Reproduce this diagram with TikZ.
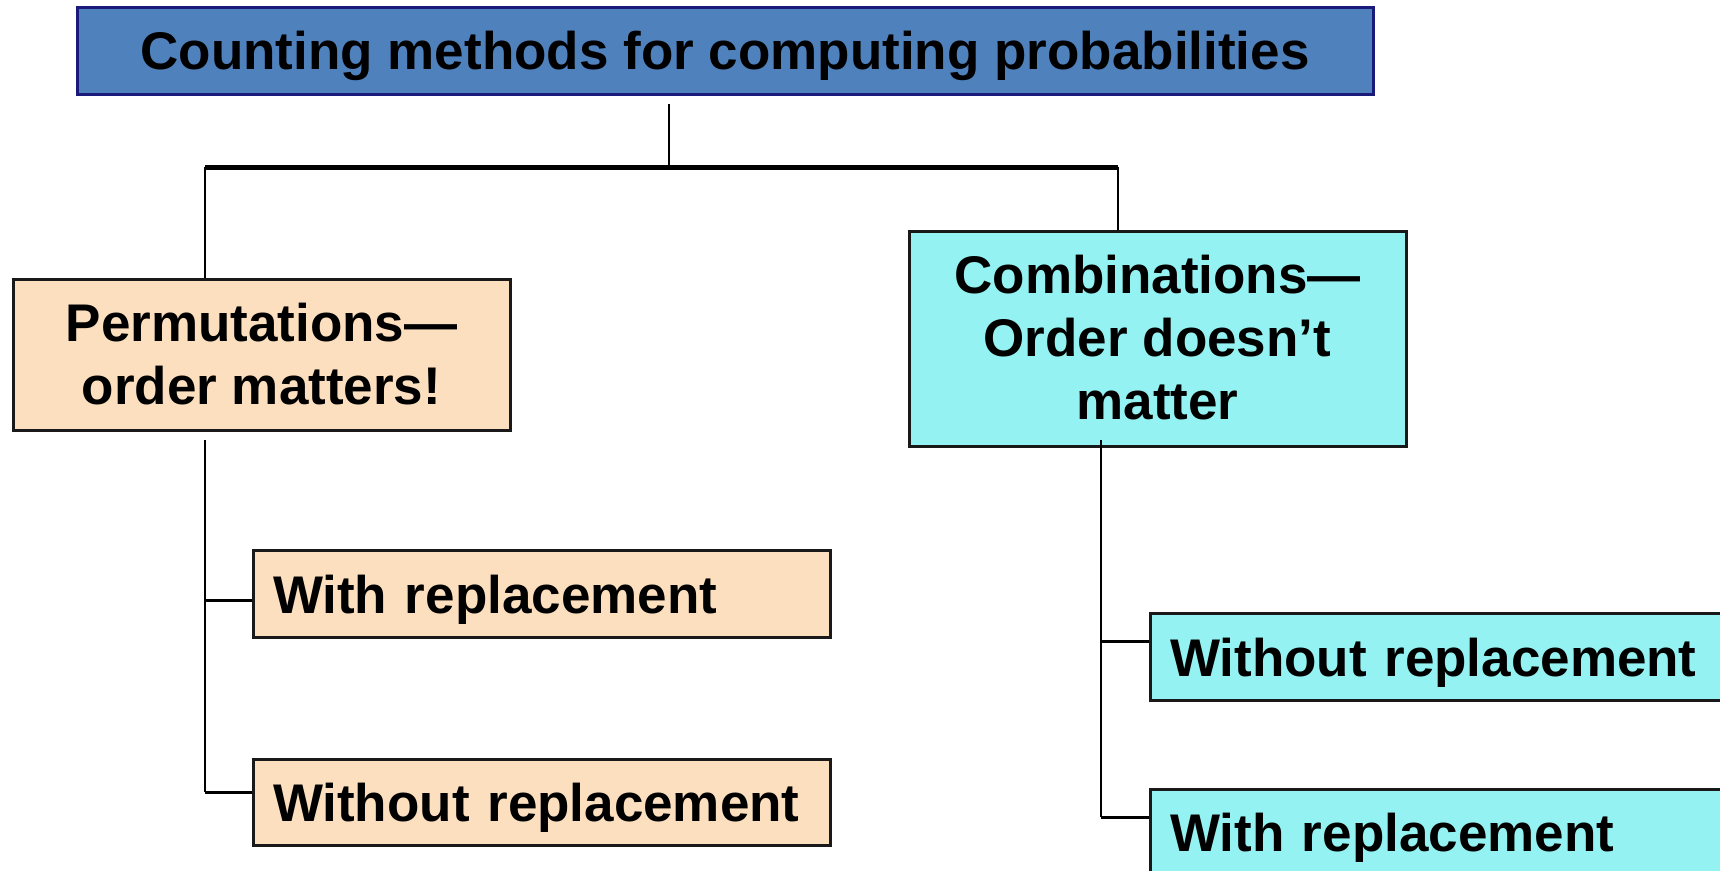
\documentclass[tikz,border=0pt]{standalone}
\usepackage{fontspec}
\setmainfont{Liberation Sans}
\definecolor{titleblue}{HTML}{4F81BD}
\definecolor{navy}{HTML}{1A1A7A}
\definecolor{peach}{HTML}{FCDFBE}
\definecolor{aqua}{HTML}{94F3F2}
\begin{document}
\begin{tikzpicture}[x=1pt,y=-1pt,
  box/.style={draw=black!90, line width=3pt, inner sep=0pt,
    font=\fontsize{53}{63}\selectfont\bfseries},
  titlebox/.style={box, draw=navy, fill=titleblue, minimum width=1296pt, minimum height=87pt,
    text height=38pt, text depth=0pt},
  catbox/.style={box, minimum width=497pt, align=center, text depth=0pt},
  leafbox/.style={box, inner xsep=20pt, align=left, minimum height=86.5pt,
    text height=38pt, text depth=0pt},
  trunk/.style={line width=2.5pt},
  branch/.style={line width=3pt},
  bar/.style={line width=5pt}]
\useasboundingbox (0,0) rectangle (1720,870);
\clip (0,0) rectangle (1720,870);

\node[titlebox] (title) at (725,50.5) {Counting methods for computing probabilities};
\node[catbox, fill=peach, minimum height=151pt, text height=99pt] (perm) at (261.5,354.5)
  {Permutations—\\order matters!};
\node[catbox, fill=aqua, minimum height=215pt, text height=161pt] (comb) at (1157.5,338.5)
  {Combinations—\\Order doesn’t\\matter};
\node[leafbox, fill=peach, text width=537pt] (pw) at (541.5,594) {With replacement};
\node[leafbox, fill=peach, text width=537pt] (pwo) at (541.5,802.5) {Without replacement};
\node[leafbox, fill=aqua, text width=570pt, minimum height=87pt] (cwo) at (1455,657) {Without replacement};
\node[leafbox, fill=aqua, text width=570pt, minimum height=87pt] (cw) at (1455,832.5) {With replacement};

\coordinate (top) at (669,104);
\coordinate (j) at (669,167);
\coordinate (jl) at (205,167);
\coordinate (jr) at (1118,167);
\coordinate (lt) at (205,440);
\coordinate (lb1) at (205,600);
\coordinate (lb2) at (205,792);
\coordinate (rt) at (1101,440);
\coordinate (rb1) at (1101,641);
\coordinate (rb2) at (1101,817);

\draw[trunk] (top) -- (j);
\draw[bar] (jl) -- (jr);
\draw[trunk] (jl) -- (perm.north -| jl);
\draw[trunk] (jr) -- (comb.north -| jr);
\draw[trunk] (lt) -- (lb2);
\draw[branch] (lb1) -- (pw.west |- lb1);
\draw[branch] (lb2) -- (pwo.west |- lb2);
\draw[trunk] (rt) -- (rb2);
\draw[branch] (rb1) -- (cwo.west |- rb1);
\draw[branch] (rb2) -- (cw.west |- rb2);
\end{tikzpicture}
\end{document}
